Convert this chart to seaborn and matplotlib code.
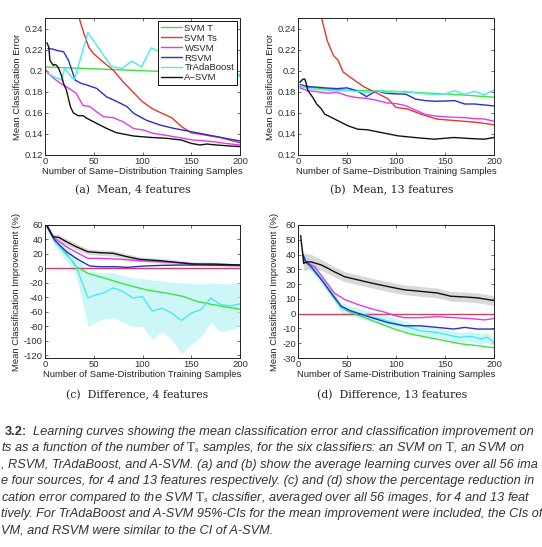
import matplotlib
matplotlib.use("Agg")
import matplotlib.pyplot as plt
import numpy as np
import pandas as pd
import seaborn as sns
from matplotlib.ticker import FuncFormatter, MultipleLocator

# ---------------- data ----------------
methods = ["SVM T", "SVM Ts", "WSVM", "RSVM", "TrAdaBoost", "A\u2212SVM"]
line_colors = ["#3ee23e", "#e8352c", "#e03ce6", "#2c2cd0", "#45eded", "#111111"]

# (a) mean error, 4 features
a_svmt_x = [0, 50, 100, 150, 200]
a_svmt_y = [0.2035, 0.2018, 0.2, 0.1982, 0.1962]
a_svmts_x = [2, 10, 20, 30, 35, 40, 45, 50, 60, 70, 80, 90, 100, 110, 120, 130, 140, 150, 160, 170, 180, 190, 200]
a_svmts_y = [0.45, 0.38, 0.31, 0.265, 0.25, 0.235, 0.222, 0.216, 0.208, 0.2005, 0.1895, 0.18, 0.1705, 0.164,
             0.1595, 0.1554, 0.147, 0.141, 0.1396, 0.138, 0.1365, 0.134, 0.1317]
a_wsvm_x = [1, 5, 10, 17, 25, 32, 39, 46, 53, 60, 70, 80, 91, 101, 111, 122, 132, 142, 152, 163, 173, 185, 200]
a_wsvm_y = [0.2006, 0.196, 0.192, 0.1873, 0.183, 0.1785, 0.167, 0.166, 0.161, 0.1563, 0.1554, 0.1516, 0.145,
            0.1437, 0.1405, 0.139, 0.1374, 0.1358, 0.1342, 0.1335, 0.1326, 0.131, 0.1295]
a_rsvm_x = [3, 8, 13, 19, 24, 31, 37, 43, 53, 63, 74, 84, 91, 104, 118, 132, 145, 159, 173, 186, 200]
a_rsvm_y = [0.221, 0.2205, 0.219, 0.218, 0.21, 0.191, 0.188, 0.1864, 0.1832, 0.1753, 0.1706, 0.166, 0.1595,
            0.153, 0.1484, 0.1453, 0.143, 0.1405, 0.138, 0.1357, 0.1333]
a_trada_x = [2, 10, 17, 20, 30, 44, 68, 79, 89, 99, 109, 120, 130, 140, 150, 160, 170, 180, 190, 200]
a_trada_y = [0.1975, 0.194, 0.191, 0.202, 0.191, 0.2363, 0.204, 0.2022, 0.209, 0.2037, 0.2217, 0.2167,
             0.212, 0.207, 0.21, 0.204, 0.2, 0.198, 0.2, 0.194]
a_asvm_x = [2, 4, 5, 7, 8.5, 10, 12, 14, 15, 17, 19, 22, 26, 29, 34, 39, 43, 53, 63, 73, 91, 108, 125, 140,
            150, 159, 166, 176, 190, 200]
a_asvm_y = [0.2265, 0.222, 0.21, 0.207, 0.205, 0.206, 0.205, 0.202, 0.2, 0.195, 0.188, 0.1815, 0.166, 0.16,
            0.1573, 0.1573, 0.1548, 0.15, 0.1453, 0.1412, 0.138, 0.1367, 0.1358, 0.1342, 0.131, 0.1295,
            0.1304, 0.1295, 0.1285, 0.128]

# (b) mean error, 13 features
b_svmt_x = [2, 25, 50, 75, 100, 125, 150, 175, 200]
b_svmt_y = [0.185, 0.183, 0.1815, 0.181, 0.1803, 0.179, 0.178, 0.1765, 0.1748]
b_svmts_x = [2, 5, 10, 15, 20, 24, 30, 36, 41, 46, 58, 68, 81, 92, 100, 112, 125, 142, 163, 183, 200]
b_svmts_y = [0.42, 0.37, 0.32, 0.285, 0.262, 0.25, 0.228, 0.2146, 0.2098, 0.1987, 0.1907, 0.1843, 0.1786,
             0.1732, 0.1652, 0.1636, 0.1589, 0.154, 0.1525, 0.1509, 0.1487]
b_grid_x = [2, 10, 20, 30, 40, 50, 60, 70, 80, 90, 100, 110, 120, 130, 140, 150, 160, 170, 180, 190, 200]
b_wsvm_y = [0.1837, 0.181, 0.18, 0.1786, 0.1795, 0.1763, 0.1745, 0.1738, 0.172, 0.1695, 0.1688, 0.1668,
            0.1625, 0.1585, 0.157, 0.1563, 0.1557, 0.1555, 0.1545, 0.1542, 0.152]
b_rsvm_y = [0.1868, 0.185, 0.1843, 0.1835, 0.183, 0.1837, 0.181, 0.1754, 0.181, 0.1785, 0.178, 0.1777,
            0.173, 0.1716, 0.171, 0.1712, 0.1716, 0.1684, 0.1684, 0.1675, 0.1665]
b_trada_y = [0.186, 0.183, 0.182, 0.1815, 0.181, 0.181, 0.1805, 0.179, 0.181, 0.1795, 0.18, 0.1805, 0.179,
             0.178, 0.1775, 0.178, 0.181, 0.1775, 0.1805, 0.177, 0.1818]
b_asvm_x = [2, 5, 7, 8.5, 10, 15, 19, 24, 27, 34, 51, 61, 71, 85, 102, 119, 139, 159, 176, 190, 200]
b_asvm_y = [0.189, 0.192, 0.192, 0.1875, 0.1812, 0.1748, 0.1684, 0.1636, 0.1589, 0.1557, 0.1477, 0.1445,
            0.1439, 0.1413, 0.1382, 0.1366, 0.135, 0.1366, 0.1356, 0.135, 0.1366]

# (c) improvement, 4 features
c_svmt_x = [2, 10, 20, 27, 32, 44, 56, 67, 84, 104, 125, 142, 156, 173, 186, 200]
c_svmt_y = [58, 38, 22, 12, 2.3, -6.9, -11.4, -16, -22.9, -29.7, -34.3, -38.9, -45.8, -50.3, -53.5, -56.3]
c_svmts_x = [0, 200]
c_svmts_y = [0, 0]
c_wsvm_x = [2, 10, 22, 34, 44, 56, 73, 97, 118, 138, 159, 179, 200]
c_wsvm_y = [58, 41.5, 30, 20.8, 13.9, 13.9, 12.9, 10.6, 9.2, 7.9, 5.5, 4.2, 3.7]
c_rsvm_x = [2, 10, 22, 32, 41, 46, 56, 73, 84, 101, 118, 138, 159, 179, 200]
c_rsvm_y = [58, 39, 23, 13.9, 6.9, 3.2, 2.3, 2.3, 1.4, 3.2, 4.1, 4.6, 4.6, 4.2, 4.6]
c_trada_x = [2, 10, 22, 32, 44, 51, 60, 70, 80, 90, 100, 110, 120, 130, 140, 150, 160, 170, 180, 190, 200]
c_trada_y = [58, 37, 21, 2, -41, -37, -34, -27, -32, -41, -39, -59, -55, -62, -72, -62, -57, -41, -50, -52, -49]
c_trada_hi = [60, 45, 32, 15, -3, -5, -6, -6, -10, -13, -14, -16, -17, -19, -20, -21, -21, -20, -21, -21, -20]
c_trada_lo = [56, 30, 10, -10, -80, -75, -70, -68, -75, -80, -80, -98, -88, -98, -118, -105, -95, -75, -88,
              -85, -80]
c_asvm_x = [2, 8, 14, 22, 32, 44, 56, 70, 84, 97, 118, 138, 152, 173, 200]
c_asvm_y = [60, 43.8, 42.9, 36.9, 30, 23, 21.7, 20.8, 16.2, 12.5, 10.6, 7.8, 6, 6, 4.6]
c_asvm_hi = [61, 47, 46.5, 41, 34, 27, 25.5, 24.5, 20, 16, 14, 11, 9, 8.5, 6.5]
c_asvm_lo = [58, 40, 39, 33, 26, 19, 18, 17, 12.5, 9, 7.5, 5, 3.5, 3.5, 2.7]

# (d) improvement, 13 features
d_svmt_x = [5, 8, 24, 34, 44, 54, 68, 81, 98, 115, 132, 149, 166, 183, 200]
d_svmt_y = [40, 35, 22.9, 13, 4, 0.7, -2.7, -6, -10.4, -13.8, -16, -18.2, -20.4, -21.6, -23.1]
d_svmts_x = [2, 200]
d_svmts_y = [0, 0]
d_wsvm_x = [5, 8, 17, 27, 37, 47.5, 61, 75, 88, 98, 108, 125, 142, 159, 176, 190, 200]
d_wsvm_y = [40, 35, 31.8, 22.9, 14, 9.6, 6.2, 3.3, 1.1, -1.1, -2.7, -2.7, -2, -2.7, -3.3, -4.2, -3.3]
d_rsvm_x = [5, 8, 13.6, 24, 34, 44, 54, 64, 75, 91.5, 108, 125, 142, 159, 170, 183, 200]
d_rsvm_y = [40, 35, 31.8, 22.9, 14, 5.1, 1.8, -0.4, -2.7, -6, -8.2, -8.2, -9.3, -10.4, -9.3, -10.4, -10.4]
d_trada_x = [5, 8, 14, 24, 34, 44, 61, 75, 91.5, 108, 125, 142, 156, 166, 176, 186, 193, 200]
d_trada_y = [40, 35, 32, 23.5, 14.5, 4, 0.7, -2, -4.9, -8.2, -11.6, -12.7, -14.9, -16, -15.3, -17.1, -16, -19.3]
d_trada_hi = [43, 39, 36, 27, 18, 7.5, 4, 1.5, -1.5, -5, -8.5, -9.5, -11.5, -12.5, -12, -13.5, -12.5, -16]
d_trada_lo = [37, 31, 28, 20, 11, 0.5, -2.6, -5.5, -8.3, -11.5, -14.7, -16, -18.3, -19.5, -18.8, -20.7, -19.5,
              -22.6]
d_asvm_x = [2.7, 5.8, 8.5, 13.6, 18.6, 24, 30.5, 37, 47.5, 61, 75, 91.5, 108, 125, 142, 156, 169.5, 183, 200]
d_asvm_y = [52.9, 34, 35, 35, 34, 32.9, 30.7, 28.4, 25, 22.9, 20.7, 18.4, 16.2, 15.1, 14, 11.8, 11.3, 10.7, 8.9]
d_asvm_hi = [53, 40, 41, 40, 38.5, 36.5, 34.2, 31.8, 28.4, 26.2, 24, 21.7, 19.5, 18.4, 17.3, 15.1, 14.6, 14, 12.2]
d_asvm_lo = [52.5, 29, 29.5, 30.5, 30, 29.3, 27.2, 25, 21.6, 19.6, 17.4, 15.1, 12.9, 11.8, 10.7, 8.5, 8, 7.4, 5.6]

captions = ["(a)  Mean, 4 features", "(b)  Mean, 13 features",
            "(c)  Difference, 4 features", "(d)  Difference, 13 features"]
x_ticks = [0, 50, 100, 150, 200]

# ---------------- style ----------------
sns.set_theme(style="white")
plt.rcParams.update({
    "font.family": ["Liberation Sans", "DejaVu Sans"],
    "xtick.direction": "in", "ytick.direction": "in",
    "xtick.top": True, "ytick.right": True,
    "xtick.bottom": True, "ytick.left": True,
    "xtick.major.size": 2.5, "ytick.major.size": 2.5,
    "xtick.major.width": 0.5, "ytick.major.width": 0.5,
    "xtick.color": "#333333", "ytick.color": "#333333",
    "axes.edgecolor": "#222222", "axes.linewidth": 0.7,
    "mathtext.fontset": "stix",
})

TICK_FS = 6.8
LAB_FS = 6.8

fig = plt.figure(figsize=(5.42, 5.47), dpi=100)
W, H = 542, 547


def axes_px(l, t, r, b):
    return fig.add_axes([l / W, 1 - b / H, (r - l) / W, (b - t) / H])


ax_a = axes_px(45, 18, 240, 155)
ax_b = axes_px(298, 18, 494, 155)
ax_c = axes_px(45, 225, 240, 358)
ax_d = axes_px(298, 225, 494, 358)


def draw(ax, series, palette, legend=False):
    rows = []
    for name, xs, ys in series:
        for xv, yv in zip(xs, ys):
            rows.append({"n": xv, "v": yv, "method": name})
    df = pd.DataFrame(rows)
    order = [s[0] for s in series]
    sns.lineplot(data=df, x="n", y="v", hue="method", hue_order=order, palette=palette,
                 estimator=None, sort=False, linewidth=1.0, legend=legend, ax=ax)


pal = dict(zip(methods, line_colors))
pal_diff = dict(pal)
pal_diff["SVM Ts"] = "#d2406a"

draw(ax_a, [("SVM T", a_svmt_x, a_svmt_y), ("SVM Ts", a_svmts_x, a_svmts_y),
            ("WSVM", a_wsvm_x, a_wsvm_y), ("RSVM", a_rsvm_x, a_rsvm_y),
            ("TrAdaBoost", a_trada_x, a_trada_y), ("A\u2212SVM", a_asvm_x, a_asvm_y)], pal, legend=True)
draw(ax_b, [("SVM T", b_svmt_x, b_svmt_y), ("SVM Ts", b_svmts_x, b_svmts_y),
            ("WSVM", b_grid_x, b_wsvm_y), ("RSVM", b_grid_x, b_rsvm_y),
            ("TrAdaBoost", b_grid_x, b_trada_y), ("A\u2212SVM", b_asvm_x, b_asvm_y)], pal)

ax_c.fill_between(c_trada_x, c_trada_lo, c_trada_hi, color="#bdf5f5", alpha=0.75, lw=0)
ax_c.fill_between(c_asvm_x, c_asvm_lo, c_asvm_hi, color="#c8c8c8", alpha=0.7, lw=0)
draw(ax_c, [("SVM Ts", c_svmts_x, c_svmts_y), ("SVM T", c_svmt_x, c_svmt_y),
            ("TrAdaBoost", c_trada_x, c_trada_y), ("WSVM", c_wsvm_x, c_wsvm_y),
            ("RSVM", c_rsvm_x, c_rsvm_y), ("A\u2212SVM", c_asvm_x, c_asvm_y)], pal_diff)

ax_d.fill_between(d_trada_x, d_trada_lo, d_trada_hi, color="#bdf5f5", alpha=0.75, lw=0)
ax_d.fill_between(d_asvm_x, d_asvm_lo, d_asvm_hi, color="#c8c8c8", alpha=0.7, lw=0)
draw(ax_d, [("SVM Ts", d_svmts_x, d_svmts_y), ("SVM T", d_svmt_x, d_svmt_y),
            ("TrAdaBoost", d_trada_x, d_trada_y), ("WSVM", d_wsvm_x, d_wsvm_y),
            ("RSVM", d_rsvm_x, d_rsvm_y), ("A\u2212SVM", d_asvm_x, d_asvm_y)], pal_diff)

fmt = FuncFormatter(lambda v, p: f"{v:g}")
for ax in (ax_a, ax_b, ax_c, ax_d):
    ax.set_xlim(0, 200)
    ax.set_xticks(x_ticks)
    ax.xaxis.set_major_formatter(fmt)
    ax.yaxis.set_major_formatter(fmt)
    ax.tick_params(labelsize=TICK_FS, pad=1.5, colors="#333333")
    for s in ax.spines.values():
        s.set_visible(True)

for ax in (ax_a, ax_b):
    ax.set_ylim(0.12, 0.25)
    ax.yaxis.set_major_locator(MultipleLocator(0.02))
    ax.set_xlabel("Number of Same\u2212Distribution Training Samples", fontsize=LAB_FS, labelpad=0.5, color="#222222")
    ax.set_ylabel("Mean Classification Error", fontsize=LAB_FS, labelpad=2, color="#222222")

ax_c.set_ylim(-124, 60)
ax_c.yaxis.set_major_locator(MultipleLocator(20))
ax_d.set_ylim(-30, 60)
ax_d.yaxis.set_major_locator(MultipleLocator(10))
for ax in (ax_c, ax_d):
    ax.set_xlabel("Number of Same-Distribution Training Samples", fontsize=LAB_FS, labelpad=0.5, color="#222222")
    ax.set_ylabel("Mean Classification Improvement (%)", fontsize=LAB_FS, labelpad=2, color="#222222")

h, l = ax_a.get_legend_handles_labels()
leg = ax_a.legend(h, l, loc="upper right", fontsize=LAB_FS, frameon=True, fancybox=False,
                  edgecolor="#111111", framealpha=1, borderpad=0.3, labelspacing=0.1,
                  handlelength=2.2, handletextpad=0.3, borderaxespad=0.3)
leg.get_frame().set_linewidth(0.7)

# sub-captions
cap_pos = [(133, 190), (392, 190), (137, 395), (392, 395)]
for txt, (cx, cy) in zip(captions, cap_pos):
    fig.text(cx / W, 1 - cy / H, txt, ha="center", va="center", fontsize=7.8,
             family="DejaVu Serif", color="#222222")

# figure caption (as visible in the cropped reference)
cap_first = "Learning curves showing the mean classification error and classification improvement on"
cap_lines = [
    "ts as a function of the number of $\\mathrm{T_s}$ samples, for the six classifiers: an SVM on $\\mathrm{T}$, an SVM on",
    ", RSVM, TrAdaBoost, and A-SVM. (a) and (b) show the average learning curves over all 56 ima",
    "e four sources, for 4 and 13 features respectively. (c) and (d) show the percentage reduction in",
    "cation error compared to the SVM $\\mathrm{T_s}$ classifier, averaged over all 56 images, for 4 and 13 feat",
    "tively. For TrAdaBoost and A-SVM 95%-CIs for the mean improvement were included, the CIs of",
    "VM, and RSVM were similar to the CI of A-SVM.",
]
CAP_FS = 9.2
fig.text(5 / W, 1 - 432 / H, "3.2:", fontsize=CAP_FS, fontweight="bold", color="#333333", va="center")
fig.text(33 / W, 1 - 432 / H, cap_first, fontsize=CAP_FS, style="italic", color="#333333", va="center")
for i, line in enumerate(cap_lines):
    fig.text(1 / W, 1 - (448.5 + 16.4 * i) / H, line, fontsize=CAP_FS, style="italic",
             color="#333333", va="center")

fig.savefig("out.png", dpi=100)
